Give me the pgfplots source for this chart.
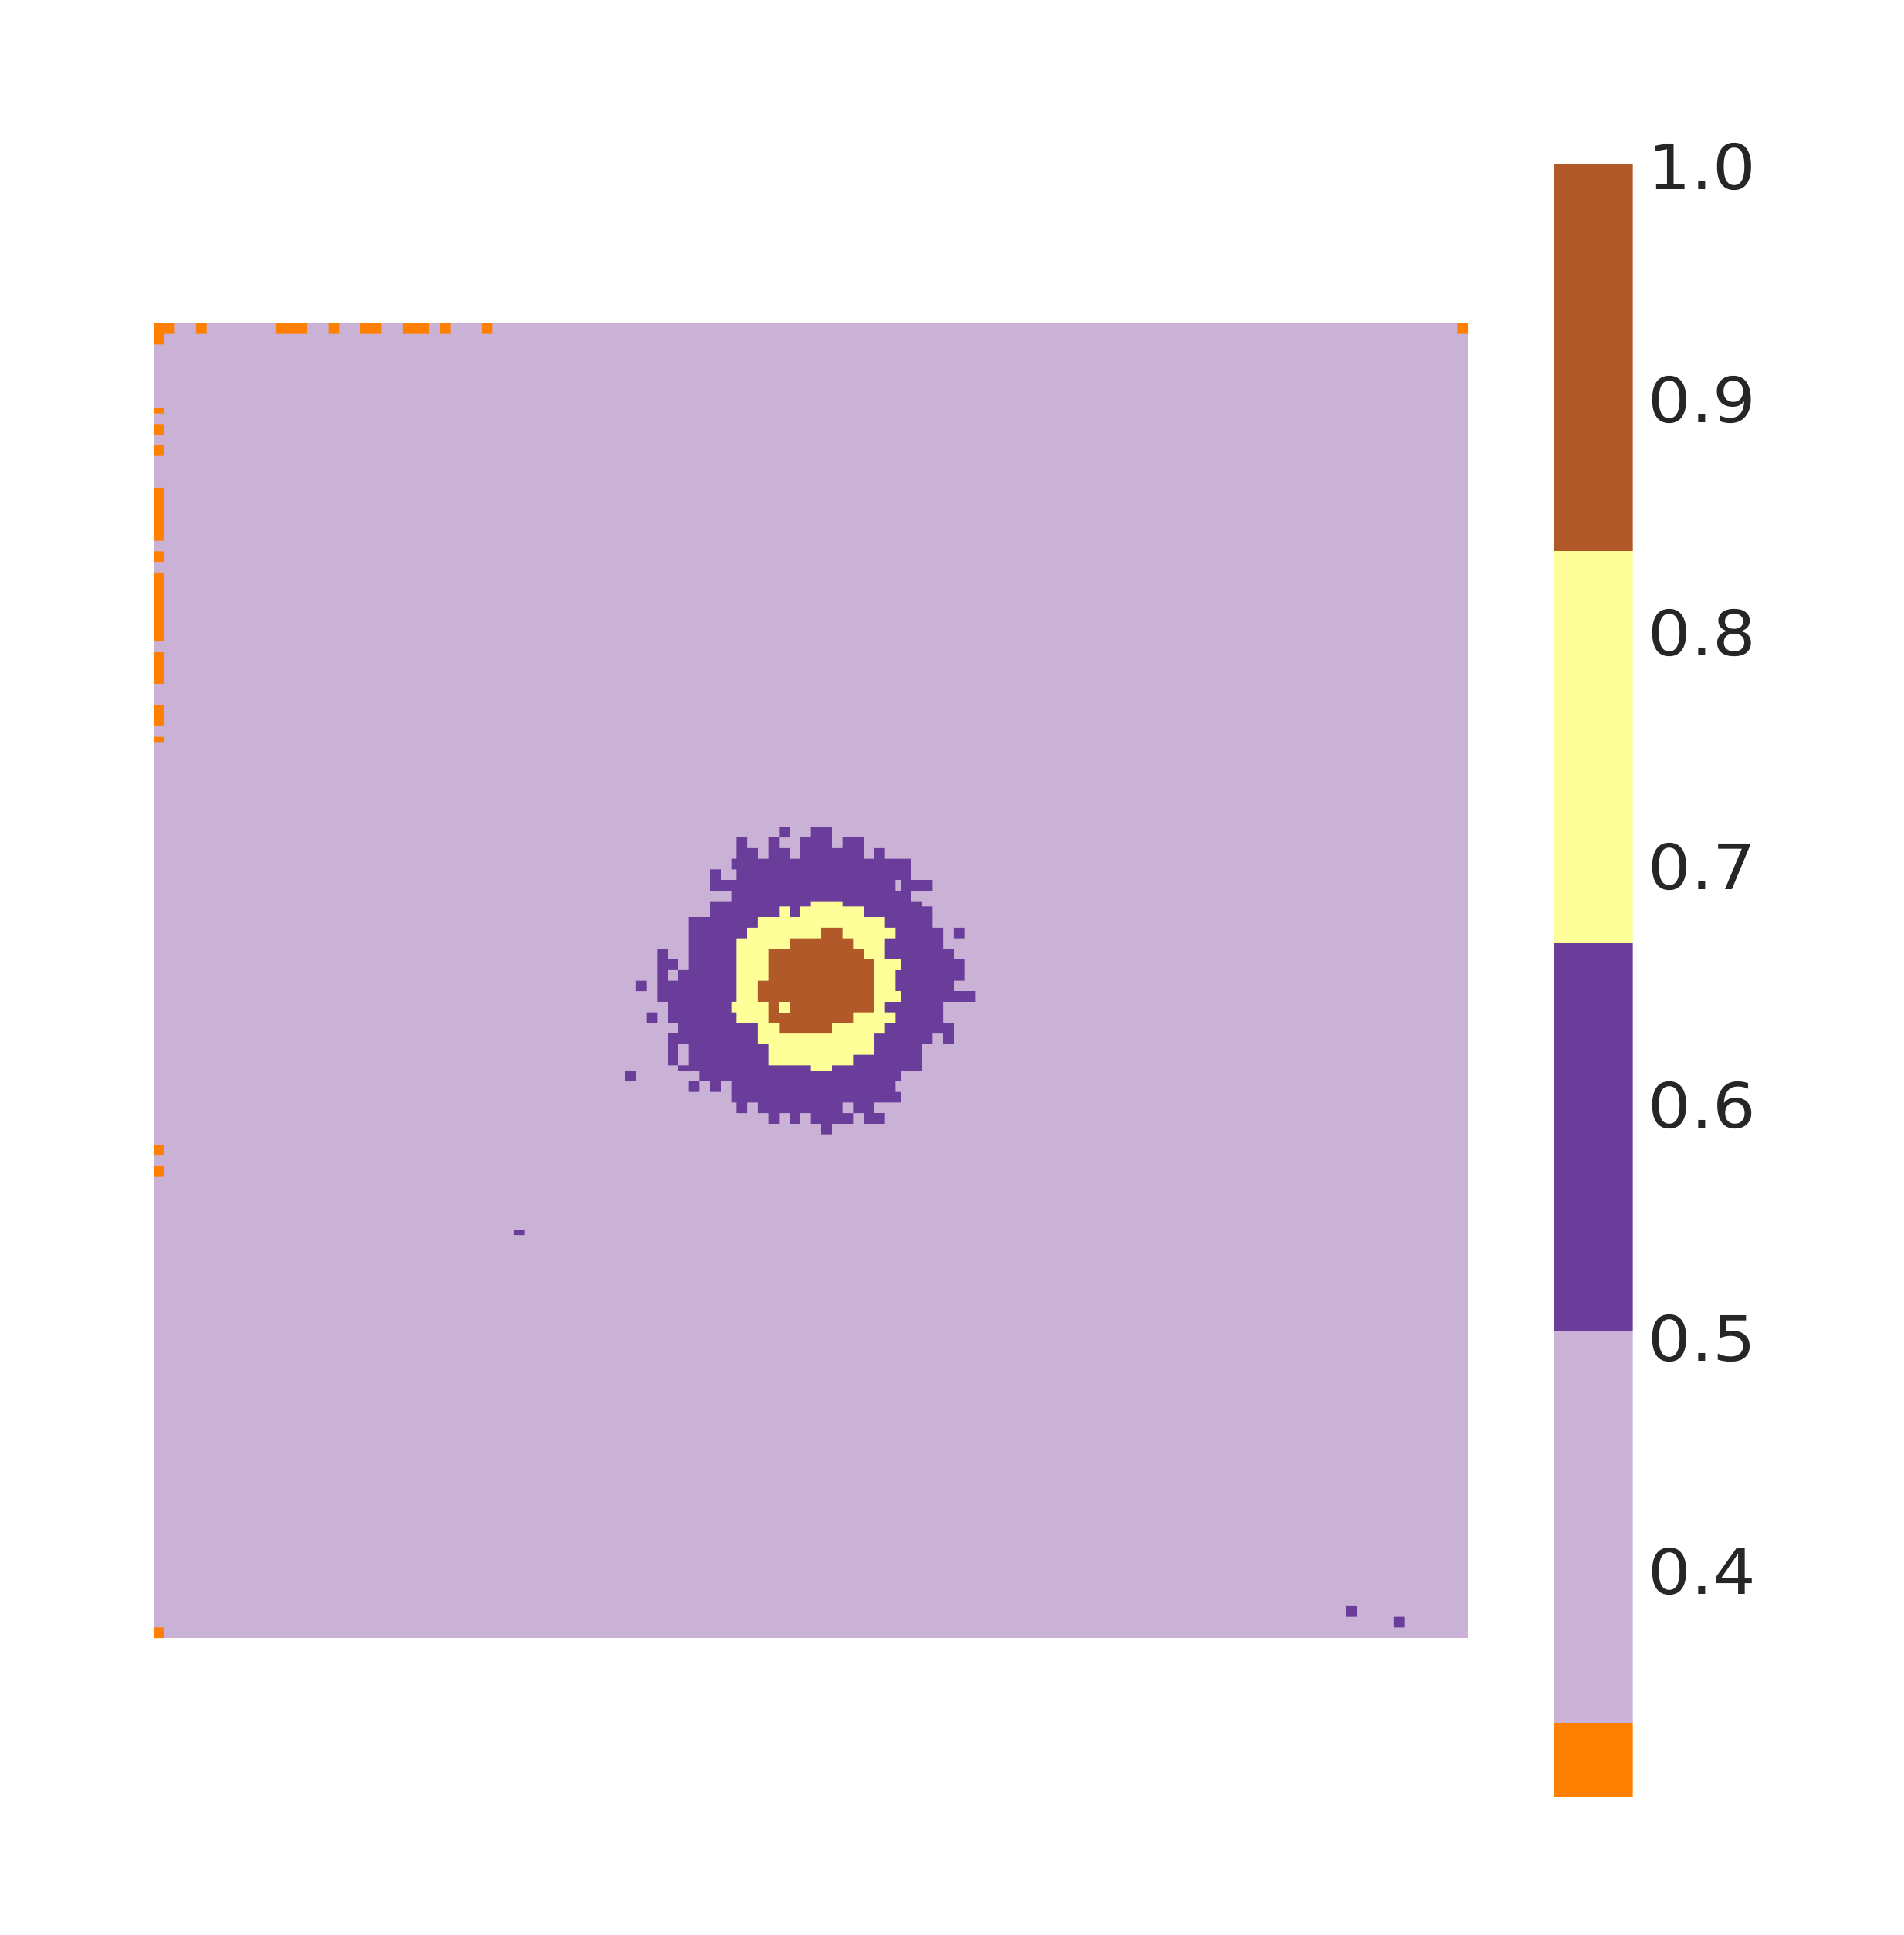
\documentclass[border=0pt]{standalone}
\usepackage{fontspec}
\setmainfont[FakeStretch=1.08]{DejaVu Sans}
\usepackage{pgfplots}
\pgfplotsset{compat=1.18}

\definecolor{lav}{HTML}{CAB2D6}
\definecolor{pur}{HTML}{6A3D9A}
\definecolor{yel}{HTML}{FFFF99}
\definecolor{bro}{HTML}{B15928}
\definecolor{ora}{HTML}{FF7F00}
\definecolor{lab}{HTML}{262626}

\begin{document}
\begin{tikzpicture}
\path[use as bounding box] (0,0) rectangle (616.5pt,626.75pt);

% heatmap, traced on a grid of half cells, y pointing down
\begin{axis}[
    at={(49.75pt,96.25pt)}, anchor=south west,
    scale only axis, width=425.75pt, height=425.75pt,
    xmin=0, xmax=248, ymin=0, ymax=248,
    y dir=reverse, hide axis,
    unbounded coords=jump,
]
\addplot[fill=lav,draw=none] coordinates {(0,0)(248,0)(248,248)(0,248)} --cycle;

% orange cells along the edges
\addplot[fill=ora,draw=none] coordinates {
  (0,0)(4,0)(4,2)(2,2)(2,4)(0,4) (nan,nan)
  (8,0)(10,0)(10,2)(8,2) (nan,nan)
  (23,0)(29,0)(29,2)(23,2) (nan,nan)
  (33,0)(35,0)(35,2)(33,2) (nan,nan)
  (39,0)(43,0)(43,2)(39,2) (nan,nan)
  (47,0)(52,0)(52,2)(47,2) (nan,nan)
  (54,0)(56,0)(56,2)(54,2) (nan,nan)
  (62,0)(64,0)(64,2)(62,2) (nan,nan)
  (246,0)(248,0)(248,2)(246,2) (nan,nan)
  (0,16)(2,16)(2,17)(0,17) (nan,nan)
  (0,19)(2,19)(2,21)(0,21) (nan,nan)
  (0,23)(2,23)(2,25)(0,25) (nan,nan)
  (0,31)(2,31)(2,41)(0,41) (nan,nan)
  (0,43)(2,43)(2,45)(0,45) (nan,nan)
  (0,47)(2,47)(2,60)(0,60) (nan,nan)
  (0,62)(2,62)(2,68)(0,68) (nan,nan)
  (0,72)(2,72)(2,76)(0,76) (nan,nan)
  (0,78)(2,78)(2,79)(0,79) (nan,nan)
  (0,155)(2,155)(2,157)(0,157) (nan,nan)
  (0,159)(2,159)(2,161)(0,161) (nan,nan)
  (0,246)(2,246)(2,248)(0,248)
};

% purple ring
\addplot[fill=pur,draw=none] coordinates {
  (110,97)(112,97)(112,99)(114,99)(114,101)(116,101)(116,97)(118,97)(118,99)(120,99)
  (120,101)(122,101)(122,97)(124,97)(124,95)(128,95)(128,99)(130,99)(130,97)(134,97)
  (134,101)(136,101)(136,99)(138,99)(138,101)(143,101)(143,105)(147,105)(147,107)(143,107)
  (143,109)(145,109)(145,110)(147,110)(147,114)(149,114)(149,118)(151,118)(151,120)(153,120)
  (153,124)(151,124)(151,126)(155,126)(155,128)(149,128)(149,132)(151,132)(151,136)(149,136)
  (149,134)(147,134)(147,136)(145,136)(145,141)(141,141)(141,143)(140,143)(140,145)(141,145)
  (141,147)(136,147)(136,149)(138,149)(138,151)(134,151)(134,149)(132,149)(132,151)(128,151)
  (128,153)(126,153)(126,151)(124,151)(124,149)(122,149)(122,151)(120,151)(120,149)(118,149)
  (118,151)(116,151)(116,149)(114,149)(114,147)(112,147)(112,149)(110,149)(110,147)(109,147)
  (109,143)(107,143)(107,145)(105,145)(105,143)(103,143)(103,145)(101,145)(101,143)(103,143)
  (103,141)(99,141)(99,140)(97,140)(97,134)(99,134)(99,132)(97,132)(97,128)(95,128)
  (95,118)(97,118)(97,120)(99,120)(99,122)(101,122)(101,112)(105,112)(105,109)(109,109)
  (109,107)(105,107)(105,103)(107,103)(107,105)(110,105)(110,103)(109,103)(109,101)(110,101)
} --cycle;

% stray purple cells
\addplot[fill=pur,draw=none] coordinates {
  (118,95)(120,95)(120,97)(118,97) (nan,nan)
  (151,114)(153,114)(153,116)(151,116) (nan,nan)
  (91,124)(93,124)(93,126)(91,126) (nan,nan)
  (93,130)(95,130)(95,132)(93,132) (nan,nan)
  (89,141)(91,141)(91,143)(89,143) (nan,nan)
  (68,171)(70,171)(70,172)(68,172) (nan,nan)
  (225,242)(227,242)(227,244)(225,244) (nan,nan)
  (234,244)(236,244)(236,246)(234,246)
};

% holes in the ring
\addplot[fill=lav,draw=none] coordinates {
  (140,105)(141,105)(141,107)(140,107) (nan,nan)
  (97,122)(99,122)(99,124)(97,124) (nan,nan)
  (99,136)(101,136)(101,140)(99,140) (nan,nan)
  (130,147)(132,147)(132,149)(130,149)
};

% yellow ring
\addplot[fill=yel,draw=none] coordinates {
  (124,109)(130,109)(130,110)(134,110)(134,112)(138,112)(138,114)(140,114)(140,116)(138,116)
  (138,120)(141,120)(141,122)(140,122)(140,126)(141,126)(141,128)(138,128)(138,130)(140,130)
  (140,132)(138,132)(138,134)(136,134)(136,138)(132,138)(132,140)(128,140)(128,141)(124,141)
  (124,140)(116,140)(116,136)(114,136)(114,132)(110,132)(110,130)(109,130)(109,128)(110,128)
  (110,116)(112,116)(112,114)(114,114)(114,112)(118,112)(118,110)(120,110)(120,112)(122,112)
  (122,110)(124,110)
} --cycle;

% brown core
\addplot[fill=bro,draw=none] coordinates {
  (126,114)(130,114)(130,116)(132,116)(132,118)(134,118)(134,120)(136,120)(136,130)(132,130)
  (132,132)(128,132)(128,134)(118,134)(118,132)(116,132)(116,128)(114,128)(114,124)(116,124)
  (116,118)(120,118)(120,116)(126,116)
} --cycle;

\addplot[fill=yel,draw=none] coordinates {(118,128)(120,128)(120,130)(118,130)} --cycle;
\end{axis}

% colour bar
\begin{axis}[
    at={(503.175pt,44.675pt)}, anchor=south west,
    scale only axis, width=25.75pt, height=528.825pt,
    xmin=0, xmax=1, ymin=0.3019, ymax=1,
    axis line style={draw=none},
    xtick=\empty,
    ytick={0.999,0.8993,0.7995,0.6997,0.5977,0.4979,0.3983},
    yticklabels={1.0,0.9,0.8,0.7,0.6,0.5,0.4},
    ytick pos=right, yticklabel pos=right,
    major tick length=0pt,
    yticklabel style={anchor=west, inner sep=0pt, xshift=4.8pt, text=lab,
        font=\fontsize{20.25}{24}\selectfont},
]
\addplot[fill=bro,draw=none] coordinates {(0,0.8346)(1,0.8346)(1,1)(0,1)} --cycle;
\addplot[fill=yel,draw=none] coordinates {(0,0.6669)(1,0.6669)(1,0.8346)(0,0.8346)} --cycle;
\addplot[fill=pur,draw=none] coordinates {(0,0.5013)(1,0.5013)(1,0.6669)(0,0.6669)} --cycle;
\addplot[fill=lav,draw=none] coordinates {(0,0.3336)(1,0.3336)(1,0.5013)(0,0.5013)} --cycle;
\addplot[fill=ora,draw=none] coordinates {(0,0.3019)(1,0.3019)(1,0.3336)(0,0.3336)} --cycle;
\end{axis}
\end{tikzpicture}
\end{document}
